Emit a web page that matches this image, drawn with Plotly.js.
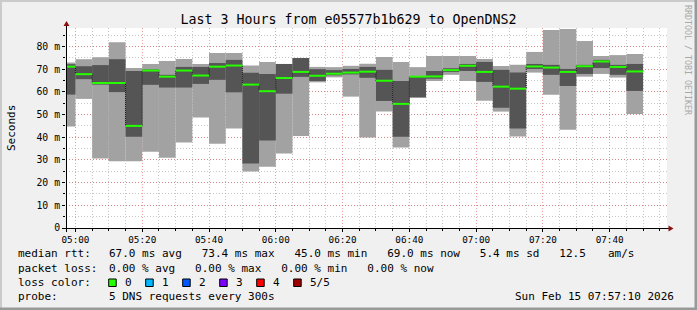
<!DOCTYPE html>
<html>
<head>
<meta charset="utf-8">
<script src="https://cdn.plot.ly/plotly-3.0.1.min.js"></script>
<style>
html,body{margin:0;padding:0;background:#f0f0f0;}
#chart{width:697px;height:310px;}
</style>
</head>
<body>
<div id="chart"></div>
<script>
// Bar start times (5-minute steps)
const slotStart = ["04:55","05:00","05:05","05:10","05:15","05:20","05:25","05:30","05:35","05:40",
  "05:45","05:50","05:55","06:00","06:05","06:10","06:15","06:20","06:25","06:30",
  "06:35","06:40","06:45","06:50","06:55","07:00","07:05","07:10","07:15","07:20",
  "07:25","07:30","07:35","07:40","07:45"];
// RTT values in ms (5 pings sorted: max, 4th, median, 2nd, min)
const maxRtt = [72.9,74.4,75.3,81.9,70.5,72.3,73.6,74.5,72.3,77.1,77.1,71.6,73.2,72.3,74.9,71.0,70.9,71.5,72.4,75.4,
  73.2,70.9,75.8,75.8,75.8,74.5,71.4,71.9,77.6,87.3,87.7,82.4,75.8,76.2,76.7];
const upperRtt = [72.2,71.3,71.8,74.4,69.2,69.9,67.5,71.0,71.0,72.7,74.1,68.4,67.9,72.3,74.9,70.0,69.6,70.1,71.0,69.7,
  64.8,66.9,69.2,70.4,72.3,73.2,69.7,68.5,72.3,71.9,70.1,71.9,74.1,71.9,72.3];
const medianRtt = [71.1,67.8,63.9,63.9,45.0,69.4,66.7,69.4,67.2,71.1,71.6,63.2,60.3,66.1,68.8,67.1,68.0,68.5,68.9,64.9,
  54.7,66.7,66.8,69.6,71.5,68.8,62.3,61.4,71.2,70.7,68.8,71.3,73.4,71.0,69.0];
const lowerRtt = [58.8,65.6,63.2,59.9,40.2,63.1,61.9,61.9,63.5,65.3,59.8,28.4,38.6,59.2,66.6,64.8,67.3,67.7,66.2,56.0,
  40.2,57.6,65.8,68.8,69.2,64.4,53.0,43.8,70.1,67.5,62.6,67.9,70.5,67.5,60.4];
const minRtt = [44.7,56.9,30.6,29.4,29.4,33.6,31.0,37.7,48.7,37.1,43.9,24.9,27.0,32.8,40.6,64.2,66.4,57.9,39.9,51.3,
  35.5,57.4,64.8,67.5,64.8,56.1,51.3,40.3,68.5,58.7,43.3,66.7,67.9,66.3,50.3];
const yTickVals = [0,10,20,30,40,50,60,70,80];
const yTickText = ["0","10 m","20 m","30 m","40 m","50 m","60 m","70 m","80 m"];
const lossLabels = ["0","1","2","3","4","5/5"];
const lossColors = ["#26ff00","#00b8ff","#0059ff","#7e00ff","#ff0000","#a10000"];

const DAY = "2026-02-15 ";
const STEP = 300000;
const t = s => new Date(DAY.replace(" ","T") + s + ":00Z").getTime();
const startMs = slotStart.map(t);
const centerMs = startMs.map(v => v + STEP/2);
const toIso = ms => new Date(ms).toISOString().replace("T"," ").replace("Z","");

const traces = [];
traces.push({type:"bar", x:centerMs.map(toIso), base:minRtt, y:maxRtt.map((v,i)=>v-minRtt[i]),
  width:STEP, marker:{color:"#a2a2a2", line:{width:0}}, hoverinfo:"skip"});
traces.push({type:"bar", x:centerMs.map(toIso), base:lowerRtt, y:upperRtt.map((v,i)=>v-lowerRtt[i]),
  width:STEP, marker:{color:"#555555", line:{width:0}}, hoverinfo:"skip"});
// step connector
traces.push({type:"scatter", mode:"lines", x:startMs.concat([startMs[startMs.length-1]+STEP]).map(toIso),
  y:medianRtt.concat([medianRtt[medianRtt.length-1]]), line:{shape:"hv", color:"#111", width:1, dash:"1px,1px"}, hoverinfo:"skip"});
// green median segments
const gx = [], gy = [];
startMs.forEach((s,i)=>{ gx.push(toIso(s), toIso(s+STEP), null); gy.push(medianRtt[i], medianRtt[i], null); });
traces.push({type:"scatter", mode:"lines", x:gx, y:gy, line:{color:"#26ff00", width:2}, hoverinfo:"skip", connectgaps:false});

const L=66, T=28, W=601, H=200;
const px = p => (p - L)/W;
const py = p => (T + H - p)/H;
const FONT = "DejaVu Sans Mono";

const shapes = [
  {type:"rect", xref:"paper", yref:"paper", x0:px(0), x1:px(697), y0:py(0), y1:py(2), fillcolor:"#cbcbcb", line:{width:0}, layer:"above"},
  {type:"rect", xref:"paper", yref:"paper", x0:px(0), x1:px(2), y0:py(0), y1:py(310), fillcolor:"#cbcbcb", line:{width:0}, layer:"above"},
  {type:"rect", xref:"paper", yref:"paper", x0:px(0), x1:px(697), y0:py(307.5), y1:py(310), fillcolor:"#999999", line:{width:0}, layer:"above"},
  {type:"rect", xref:"paper", yref:"paper", x0:px(694.5), x1:px(697), y0:py(0), y1:py(310), fillcolor:"#999999", line:{width:0}, layer:"above"},
  {type:"line", xref:"paper", yref:"paper", x0:px(62), x1:px(669), y0:py(228.5), y1:py(228.5), line:{color:"#000", width:1}, layer:"above"},
  {type:"line", xref:"paper", yref:"paper", x0:px(66.5), x1:px(66.5), y0:py(232), y1:py(25), line:{color:"#000", width:1}, layer:"above"},
  {type:"path", xref:"paper", yref:"paper", path:`M ${px(63.5)} ${py(26)} L ${px(69.5)} ${py(26)} L ${px(66.5)} ${py(21)} Z`, fillcolor:"#8b1010", line:{width:0}, layer:"above"},
  {type:"path", xref:"paper", yref:"paper", path:`M ${px(668.5)} ${py(225.5)} L ${px(668.5)} ${py(231.5)} L ${px(673.5)} ${py(228.5)} Z`, fillcolor:"#8b1010", line:{width:0}, layer:"above"}
];
lossColors.forEach((c,i)=>{
  const x0 = 108.7 + i*37;
  shapes.push({type:"rect", xref:"paper", yref:"paper", x0:px(x0), x1:px(x0+7.5), y0:py(279), y1:py(286.5), fillcolor:c, line:{color:"#000", width:1}, layer:"above"});
});

const ann = (text, x, y, opts={}) => Object.assign({text, xref:"paper", yref:"paper", x:px(x), y:py(y), xanchor:"left", yanchor:"middle",
  showarrow:false, font:{family:FONT, size:11, color:"#000"}}, opts);
const annotations = [
  ann("median rtt:", 16, 254),
  ann("67.0 ms avg   73.4 ms max   45.0 ms min   69.0 ms now   5.4 ms sd   12.5", 106.6, 254),
  ann("am/s", 606, 254),
  ann("packet loss:", 16, 268),
  ann("0.00 % avg   0.00 % max   0.00 % min   0.00 % now", 106.6, 268),
  ann("loss color:", 16, 282),
  ann("probe:", 16, 296),
  ann("5 DNS requests every 300s", 106.6, 296),
  ann("Sun Feb 15 07:57:10 2026", 512.6, 296),
  ann("Seconds", 11, 128, {xanchor:"center", textangle:-90}),
  ann("RRDTOOL / TOBI OETIKER", 688, 60, {xanchor:"center", textangle:90, font:{family:FONT, size:8.3, color:"#a8a8a8"}})
];
lossLabels.forEach((s,i)=>annotations.push(ann(s, 122.6 + i*37, 282.5)));

const layout = {
  width:697, height:310,
  margin:{l:L, r:697-L-W, t:T, b:310-T-H, pad:0},
  paper_bgcolor:"#f0f0f0", plot_bgcolor:"#ffffff",
  showlegend:false, barmode:"overlay", hovermode:false,
  title:{text:"Last 3 Hours from e05577b1b629 to OpenDNS2", font:{family:FONT, size:13.3, color:"#000"},
    xref:"container", yref:"container", x:0.5, xanchor:"center", y:1-19.5/310, yanchor:"middle"},
  xaxis:{type:"date", range:[DAY+"04:57:10", DAY+"07:57:10"], tick0:DAY+"05:00", dtick:1200000, tickformat:"%H:%M",
    showline:false, zeroline:false, ticks:"outside", ticklen:3, tickcolor:"#000",
    showgrid:true, gridcolor:"rgba(222,80,80,0.55)", griddash:"1px,2px", gridwidth:1,
    minor:{dtick:300000, showgrid:true, gridcolor:"rgba(143,143,143,0.5)", griddash:"1px,2px", ticks:"outside", ticklen:2, tickcolor:"#000"},
    tickfont:{family:FONT, size:9.3, color:"#000"}, fixedrange:true},
  yaxis:{range:[0,88.15], tickvals:yTickVals, ticktext:yTickText,
    showline:false, zeroline:false, ticks:"outside", ticklen:3, tickcolor:"#000",
    showgrid:true, gridcolor:"rgba(222,80,80,0.55)", griddash:"1px,2px", gridwidth:1,
    minor:{dtick:5, showgrid:true, gridcolor:"rgba(143,143,143,0.5)", griddash:"1px,2px", ticks:"outside", ticklen:2, tickcolor:"#000"},
    tickfont:{family:FONT, size:9.8, color:"#000"}, fixedrange:true},
  shapes, annotations
};
Plotly.newPlot("chart", traces, layout, {staticPlot:true, displayModeBar:false});
</script>
</body>
</html>
